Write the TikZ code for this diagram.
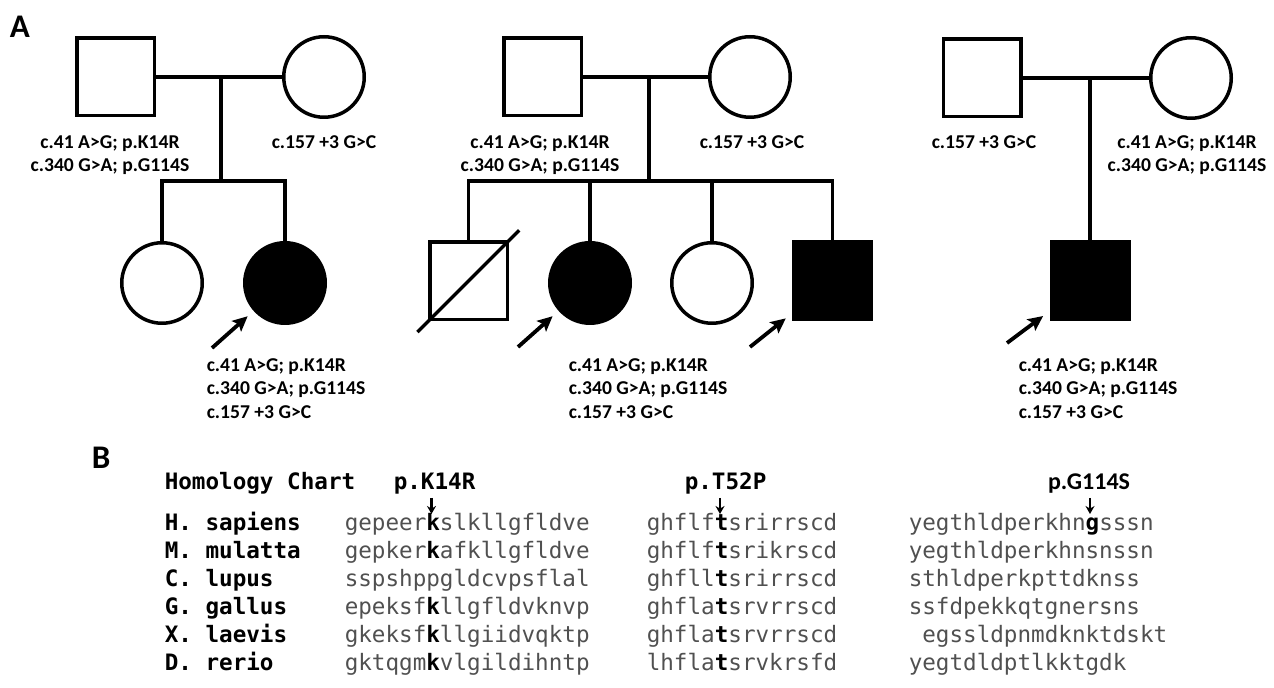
\documentclass[tikz,border=0pt]{standalone}
\usepackage{fontspec}
\setmainfont{Carlito}
\setmonofont{DejaVu Sans Mono}
\usetikzlibrary{arrows.meta, calc}

\definecolor{seqgray}{RGB}{80,80,80}
\newcommand{\mut}[1]{{\bfseries\color{black}#1}}

\begin{document}
\begin{tikzpicture}[
    x = 0.5pt, y = -0.5pt, % one unit = one pixel, y running down
    > = {Stealth[length=7.5pt, width=7pt, inset=1.5pt]}, % proband arrow
    line width = 1.75pt % pedigree line style
  ]

  \tikzstyle{male}=[draw, rectangle, minimum size = 38.75pt, inner sep = 0pt]
  \tikzstyle{female}=[draw, circle, minimum size = 40.25pt, inner sep = 0pt]
  \tikzstyle{affected}=[fill = black]
  \tikzstyle{variant}=[font = \bfseries\fontsize{9.8}{11.7}\selectfont,
  inner sep = 0pt, anchor = north]
  \tikzstyle{proband}=[->, line width = 1.9pt, shorten > = 4pt]
  \tikzstyle{panel}=[font = \bfseries\fontsize{16.5}{16.5}\selectfont,
  anchor = north west, inner sep = 0pt]
  \tikzstyle{species}=[font = \ttfamily\bfseries\fontsize{11.3}{13}\selectfont,
  anchor = base west, inner sep = 0pt]
  \tikzstyle{seq}=[font = \ttfamily\fontsize{11.3}{13}\selectfont,
  text = seqgray, anchor = base west, inner sep = 0pt]
  \tikzstyle{site}=[-{Stealth[length=4pt, width=4.5pt]}, line width = 1.1pt]

  \useasboundingbox (0,0) rectangle (1274,688);

  \node[panel] (A) at (8,14) {A};
  \node[panel] (B) at (90,445) {B};

  % family 1
  \node[male] (f1) at (115.5,77) {}; \node[female] (m1) at (324,77) {};
  \node[female] (c1a) at (162,283) {};
  \node[female, affected] (c1b) at (285,283) {};
  \coordinate (d1) at (221,77); \coordinate (s1) at (221,181);
  \coordinate (p1) at (212,348);

  \path[-] (f1) edge (m1); \path[-] (d1) edge (s1);
  \draw (c1a.north) |- (s1) -| (c1b.north);
  \draw[proband] (p1) -- (c1b);

  \node[variant, align=center] (f1v) at (110,134) {c.41 A>G; p.K14R\\c.340 G>A; p.G114S};
  \node[variant] (m1v) at (324,134) {c.157 +3 G>C};
  \node[variant, align=left, anchor=north west] (c1v) at (205,357)
  {c.41 A>G; p.K14R\\c.340 G>A; p.G114S\\c.157 +3 G>C};

  % family 2
  \node[male] (f2) at (542.5,77) {}; \node[female] (m2) at (750,77) {};
  \node[male] (c2a) at (468.5,281) {};
  \node[female, affected] (c2b) at (590,283) {};
  \node[female] (c2c) at (712,283) {};
  \node[male, affected] (c2d) at (832.5,281) {};
  \coordinate (d2) at (649,77); \coordinate (s2) at (649,181);
  \coordinate (p2) at (518,347); \coordinate (q2) at (750,347);

  \path[-] (f2) edge (m2); \path[-] (d2) edge (s2);
  \draw (c2a.north) |- (s2) -| (c2d.north);
  \path[-] (c2b.north |- s2) edge (c2b.north);
  \path[-] (c2c.north |- s2) edge (c2c.north);
  \draw ($(c2a.center)!1.26!(c2a.south west)$) -- ($(c2a.center)!1.25!(c2a.north east)$);
  \draw[proband] (p2) -- (c2b); \draw[proband] (q2) -- (c2d);

  \node[variant, align=center] (f2v) at (540,134) {c.41 A>G; p.K14R\\c.340 G>A; p.G114S};
  \node[variant] (m2v) at (752,134) {c.157 +3 G>C};
  \node[variant, align=left, anchor=north west] (c2v) at (567,357)
  {c.41 A>G; p.K14R\\c.340 G>A; p.G114S\\c.157 +3 G>C};

  % family 3
  \node[male] (f3) at (982,78) {}; \node[female] (m3) at (1191,78) {};
  \node[male, affected] (c3) at (1090,281) {};
  \coordinate (p3) at (1007,343);

  \path[-] (f3) edge (m3); \path[-] (c3.north |- f3) edge (c3.north);
  \draw[proband] (p3) -- (c3);

  \node[variant] (f3v) at (984,134) {c.157 +3 G>C};
  \node[variant, align=center] (m3v) at (1187,134) {c.41 A>G; p.K14R\\c.340 G>A; p.G114S};
  \node[variant, align=left, anchor=north west] (c3v) at (1017,357)
  {c.41 A>G; p.K14R\\c.340 G>A; p.G114S\\c.157 +3 G>C};

  % homology chart
  \node[species] (hc) at (163,490) {Homology Chart};
  \node[species] (k14) at (392,490) {p.K14R};
  \node[species] (t52) at (683,490) {p.T52P};
  \node[font=\bfseries\fontsize{12}{12}\selectfont, anchor=base, inner sep=0pt]
  (g114) at (1089,490) {p.G114S};

  \coordinate (k14a) at (431.5,498); \coordinate (k14b) at (431.5,514);
  \coordinate (t52a) at (720,498); \coordinate (t52b) at (720,514);
  \coordinate (g114a) at (1090,498); \coordinate (g114b) at (1090,514);
  \draw[site] (k14a) -- (k14b); \draw[site] (t52a) -- (t52b);
  \draw[site] (g114a) -- (g114b);

  \foreach \sp/\sa/\sb/\sc [count=\i from 0] in {
    H. sapiens/gepeer\mut{k}slkllgfldve/ghflf\mut{t}srirrscd/yegthldperkhn\mut{g}sssn,
    M. mulatta/gepker\mut{k}afkllgfldve/ghflf\mut{t}srikrscd/yegthldperkhnsnssn,
    C. lupus/sspshppgldcvpsflal/ghfll\mut{t}srirrscd/sthldperkpttdknss,
    G. gallus/epeksf\mut{k}llgfldvknvp/ghfla\mut{t}srvrrscd/ssfdpekkqtgnersns,
    X. laevis/gkeksf\mut{k}llgiidvqktp/ghfla\mut{t}srvrrscd/\hphantom{e}egssldpnmdknktdskt,
    D. rerio/gktqgm\mut{k}vlgildihntp/lhfla\mut{t}srvkrsfd/yegtdldptlkktgdk}
  {
    \node[species] (sp\i) at (163,531+28*\i) {\sp};
    \node[seq] (sa\i) at (343,531+28*\i) {\sa};
    \node[seq] (sb\i) at (645,531+28*\i) {\sb};
    \node[seq] (sc\i) at (907,531+28*\i) {\sc};
  }

\end{tikzpicture}
\end{document}
